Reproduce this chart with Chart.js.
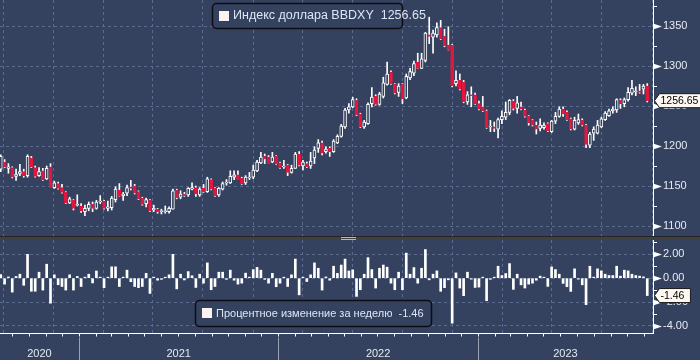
<!DOCTYPE html>
<html lang="ru">
<head>
<meta charset="utf-8">
<title>Индекс доллара BBDXY</title>
<script src="https://cdn.jsdelivr.net/npm/chart.js@4.4.1/dist/chart.umd.min.js"></script>
<style>
  html, body { margin: 0; padding: 0; background: #34425f; }
  #wrap { position: relative; width: 700px; height: 360px; background: #34425f; overflow: hidden; }
  #top { position: absolute; left: 0; top: 0; }
  #bottom { position: absolute; left: 0; top: 240px; }
  #split { position: absolute; left: 0; top: 236px; width: 700px; height: 4px; background: #404040; border-top: 1px solid #262626; box-sizing: border-box; }
  #grip { position: absolute; left: 341px; top: 0; width: 15px; height: 1px; border-top: 1px solid #b8b8b8; border-bottom: 1px solid #b8b8b8; }
</style>
</head>
<body>
<div id="wrap">
  <canvas id="top" width="700" height="236"></canvas>
  <div id="split"><div id="grip"></div></div>
  <canvas id="bottom" width="700" height="120"></canvas>
</div>
<script>
// weekly BBDXY candles, mid Aug 2020 .. mid Nov 2023
const opens = [
  1171, 1180, 1172, 1173, 1162, 1165, 1168, 1163, 1185, 1173,
  1163, 1169, 1159, 1174, 1148, 1153, 1148, 1142, 1129, 1132,
  1126, 1125, 1118, 1122, 1127, 1122, 1130, 1131, 1122, 1123,
  1133, 1145, 1138, 1141, 1149, 1150, 1143, 1135, 1128, 1132,
  1120, 1121, 1118, 1118, 1118, 1121, 1145, 1136, 1140, 1139,
  1146, 1148, 1139, 1147, 1143, 1158, 1147, 1139, 1146, 1154,
  1154, 1161, 1164, 1160, 1154, 1160, 1161, 1169, 1179, 1187,
  1186, 1180, 1187, 1179, 1174, 1176, 1167, 1172, 1190, 1175,
  1178, 1175, 1185, 1197, 1204, 1193, 1197, 1193, 1204, 1212,
  1224, 1245, 1249, 1257, 1240, 1224, 1228, 1253, 1262, 1252,
  1262, 1277, 1292, 1277, 1267, 1277, 1260, 1285, 1291, 1305,
  1297, 1307, 1339, 1336, 1339, 1348, 1337, 1326, 1326, 1278,
  1282, 1280, 1255, 1264, 1264, 1253, 1249, 1244, 1224, 1224,
  1221, 1233, 1236, 1242, 1256, 1247, 1249, 1245, 1237, 1232,
  1226, 1222, 1223, 1228, 1218, 1231, 1237, 1246, 1242, 1234,
  1221, 1229, 1232, 1226, 1201, 1216, 1216, 1224, 1233, 1238,
  1244, 1245, 1257, 1253, 1258, 1266, 1268, 1269, 1271, 1275
];
const highs = [
  1189, 1183, 1178, 1174, 1171, 1177, 1171, 1189, 1187, 1175,
  1173, 1172, 1175, 1178, 1156, 1155, 1152, 1143, 1136, 1133,
  1139, 1128, 1126, 1130, 1130, 1132, 1138, 1132, 1131, 1137,
  1149, 1153, 1142, 1151, 1157, 1152, 1144, 1136, 1135, 1133,
  1126, 1122, 1121, 1125, 1124, 1146, 1146, 1144, 1142, 1148,
  1154, 1150, 1148, 1152, 1161, 1159, 1148, 1148, 1155, 1158,
  1169, 1169, 1169, 1161, 1163, 1167, 1176, 1182, 1192, 1190,
  1188, 1192, 1188, 1180, 1182, 1177, 1176, 1192, 1193, 1182,
  1180, 1192, 1199, 1208, 1206, 1199, 1199, 1208, 1214, 1227,
  1247, 1253, 1261, 1259, 1241, 1232, 1254, 1273, 1264, 1267,
  1286, 1305, 1294, 1278, 1278, 1278, 1290, 1297, 1306, 1316,
  1316, 1342, 1361, 1345, 1354, 1357, 1346, 1349, 1327, 1294,
  1290, 1282, 1268, 1274, 1266, 1256, 1262, 1245, 1232, 1230,
  1235, 1244, 1255, 1258, 1258, 1262, 1255, 1246, 1238, 1233,
  1230, 1234, 1229, 1229, 1232, 1242, 1249, 1249, 1244, 1235,
  1236, 1240, 1234, 1227, 1217, 1224, 1232, 1236, 1243, 1246,
  1249, 1259, 1259, 1260, 1273, 1282, 1274, 1277, 1277, 1278
];
const lows = [
  1168, 1173, 1166, 1160, 1157, 1163, 1161, 1161, 1173, 1161,
  1162, 1157, 1158, 1149, 1147, 1146, 1141, 1128, 1128, 1120,
  1125, 1117, 1113, 1119, 1118, 1121, 1128, 1121, 1119, 1120,
  1130, 1137, 1132, 1138, 1145, 1140, 1133, 1126, 1124, 1118,
  1118, 1116, 1115, 1116, 1116, 1121, 1134, 1134, 1137, 1137,
  1145, 1137, 1137, 1142, 1142, 1145, 1137, 1137, 1145, 1151,
  1153, 1158, 1158, 1152, 1152, 1158, 1159, 1168, 1178, 1178,
  1178, 1179, 1177, 1172, 1172, 1163, 1166, 1172, 1175, 1170,
  1173, 1172, 1178, 1192, 1189, 1191, 1187, 1192, 1203, 1211,
  1222, 1241, 1248, 1238, 1223, 1222, 1227, 1249, 1251, 1251,
  1260, 1276, 1277, 1265, 1262, 1253, 1259, 1283, 1288, 1297,
  1297, 1305, 1328, 1316, 1336, 1333, 1324, 1320, 1274, 1275,
  1270, 1254, 1252, 1249, 1252, 1245, 1243, 1222, 1218, 1218,
  1210, 1228, 1233, 1239, 1245, 1241, 1245, 1236, 1226, 1225,
  1215, 1219, 1221, 1218, 1217, 1228, 1236, 1237, 1232, 1220,
  1220, 1227, 1225, 1198, 1198, 1207, 1215, 1223, 1232, 1237,
  1241, 1242, 1247, 1249, 1256, 1264, 1263, 1266, 1265, 1255
];
const closes = [
  1187, 1174, 1174, 1161, 1165, 1168, 1163, 1187, 1174, 1162,
  1168, 1158, 1172, 1149, 1154, 1147, 1142, 1129, 1134, 1122,
  1127, 1119, 1122, 1127, 1122, 1130, 1131, 1122, 1124, 1135,
  1146, 1137, 1140, 1148, 1147, 1141, 1134, 1127, 1133, 1119,
  1122, 1118, 1119, 1119, 1122, 1144, 1135, 1140, 1138, 1147,
  1148, 1140, 1146, 1143, 1159, 1146, 1138, 1147, 1153, 1155,
  1162, 1164, 1158, 1153, 1161, 1161, 1170, 1180, 1186, 1184,
  1178, 1186, 1178, 1173, 1175, 1167, 1172, 1190, 1176, 1180,
  1174, 1181, 1195, 1204, 1191, 1196, 1193, 1206, 1212, 1225,
  1245, 1249, 1258, 1239, 1224, 1230, 1252, 1261, 1252, 1265,
  1279, 1290, 1278, 1266, 1275, 1259, 1287, 1293, 1303, 1297,
  1309, 1341, 1337, 1341, 1348, 1334, 1325, 1320, 1275, 1282,
  1271, 1255, 1264, 1263, 1253, 1246, 1244, 1223, 1225, 1222,
  1233, 1237, 1242, 1257, 1247, 1254, 1246, 1237, 1229, 1226,
  1221, 1226, 1226, 1219, 1231, 1237, 1246, 1240, 1233, 1221,
  1232, 1233, 1226, 1202, 1215, 1221, 1226, 1234, 1241, 1244,
  1246, 1258, 1253, 1258, 1267, 1272, 1269, 1267, 1275, 1256.65
];
// weekly % change
const weeklyChange = [
  0.3, -0.5, 0.1, -1.17, 0.14, 0.33, -0.6, 2.0, -1.1, -1.1,
  0.5, -1.0, 1.17, -2.1, 0.28, -0.55, -0.7, -1.0, 0.28, -1.0,
  0.14, -0.7, 0.08, 0.33, -0.4, 0.6, 0.05, -0.8, 0.05, 0.95,
  0.95, -0.7, 0.05, 0.67, -0.3, -0.7, -0.8, -0.7, 0.4, -1.28,
  0.05, -0.17, -0.1, 0.05, 0.28, 2.0, -0.9, 0.33, -0.15, 0.55,
  0.2, -0.78, 0.33, -0.42, 1.28, -0.97, -0.7, 0.5, 0.5, -0.1,
  0.67, -0.17, -0.5, -0.42, 0.42, 0.05, 0.72, 0.9, 0.67, -0.1,
  -0.42, 0.4, -0.72, -0.42, 0.05, -0.7, 0.28, 1.6, -1.4, 0.05,
  -0.28, 0.28, 1.28, 0.83, -1.0, 0.1, -0.17, 1.0, 0.4, 1.1,
  1.6, 0.6, 0.7, -1.53, -0.97, 0.33, 1.72, 0.72, -0.83, 0.83,
  1.1, 0.92, -0.42, -0.97, 0.5, -0.97, 2.1, 0.33, 0.89, -0.42,
  0.83, 2.4, -0.14, 0.33, 0.61, -1.1, -0.8, -0.14, -3.78, 0.44,
  -0.83, -1.47, 0.5, -0.08, -0.78, -0.75, 0.05, -1.89, -0.1, 0.05,
  1.0, 0.22, 0.39, 1.22, -0.94, 0.33, -0.56, -0.83, -0.5, -0.42,
  -0.17, 0.17, 0.05, -0.69, 0.94, 0.72, 0.33, -0.44, -0.72, -1.11,
  0.78, -0.08, -0.56, -2.22, 1.0, 0.05, 0.78, 0.61, 0.33, 0.22,
  0.22, 1.0, 0.17, 0.67, 0.61, 0.33, 0.22, 0.17, 0.11, -1.46
];
const priceTicks = [1100, 1150, 1200, 1250, 1300, 1350];
const priceMinor = [1125, 1175, 1225, 1275, 1325, 1375];
const changeTicks = [-4, -2, 0, 2];
const changeMinor = [-3, -1, 1, 3];
const yearLabels = ['2020', '2021', '2022', '2023'];
const firstWeek = Date.UTC(2020, 7, 11);

const bg = '#34425f';
const gridColor = '#5a6b8f';
const axisColor = '#ffffff';
const textColor = '#e6eaf2';
const legendText = '#dde6f4';
const downColor = '#e2173e';
const font = '"Liberation Sans", Arial, sans-serif';
const xMin = -0.2, xMax = 170.5;

const DAY = 864e5;
const weekPos = (y, m) => (Date.UTC(y, m, 1) - firstWeek) / (7 * DAY);
const quarterLines = [], monthTicks = [];
for (let y = 2020; y <= 2024; y++) {
  for (let m = 0; m < 12; m++) {
    const p = weekPos(y, m);
    if (p <= xMin || p >= xMax) continue;
    monthTicks.push(p);
    if (m % 3 === 0) quarterLines.push(p);
  }
}

const idx = closes.map((c, i) => i);
const isUp = idx.map(i => closes[i] >= opens[i]);

function xAxis(height) {
  return {
    type: 'linear', min: xMin, max: xMax, offset: false,
    grid: { color: gridColor, lineWidth: 1, drawTicks: false },
    border: { display: false, dash: [3, 3] },
    ticks: { display: false },
    afterBuildTicks: s => { s.ticks = quarterLines.map(v => ({ value: v })); },
    afterFit: s => { s.height = height; s.paddingLeft = 0; s.paddingRight = 0; }
  };
}

function yAxis(min, max, ticks, fmt) {
  return {
    position: 'right', min: min, max: max,
    grid: { color: gridColor, lineWidth: 1, drawTicks: false },
    border: { display: true, color: axisColor, width: 1, dash: [3, 3] },
    ticks: { color: textColor, padding: 10, font: { family: font, size: 11 }, callback: fmt },
    afterBuildTicks: s => { s.ticks = ticks.map(v => ({ value: v })); },
    afterFit: s => { s.width = 47; s.paddingTop = 0; s.paddingBottom = 0; }
  };
}

const panelDecor = {
  id: 'panelDecor',
  afterDraw(chart, args, o) {
    const ctx = chart.ctx, area = chart.chartArea;
    const ys = chart.scales.y, xs = chart.scales.x;
    ctx.save();
    ctx.strokeStyle = axisColor;
    ctx.fillStyle = axisColor;
    ctx.lineWidth = 1;

    // right axis tick marks
    o.minors.forEach(v => {
      const py = Math.round(ys.getPixelForValue(v)) + 0.5;
      ctx.beginPath();
      ctx.moveTo(area.right, py);
      ctx.lineTo(area.right + 4, py);
      ctx.stroke();
    });
    o.majors.forEach(v => {
      const py = Math.round(ys.getPixelForValue(v)) + 0.5;
      ctx.beginPath();
      ctx.moveTo(area.right, py - 3);
      ctx.lineTo(area.right + 9, py);
      ctx.lineTo(area.right, py + 3);
      ctx.closePath();
      ctx.fill();
    });

    // time axis (lower panel only)
    if (o.timeAxis) {
      const by = Math.round(area.bottom) + 0.5;
      ctx.beginPath();
      ctx.moveTo(area.left, by);
      ctx.lineTo(area.right, by);
      monthTicks.forEach(v => {
        const px = Math.round(xs.getPixelForValue(v)) + 0.5;
        ctx.moveTo(px, by);
        ctx.lineTo(px, by + 3);
      });
      ctx.stroke();

      ctx.strokeStyle = '#9aa2b4';
      ctx.beginPath();
      yearLabels.slice(1).forEach(y => {
        const px = Math.round(xs.getPixelForValue(weekPos(+y, 0))) + 0.5;
        ctx.moveTo(px, by + 4);
        ctx.lineTo(px, chart.height);
      });
      ctx.stroke();

      ctx.font = '11px ' + font;
      ctx.fillStyle = textColor;
      ctx.textAlign = 'center';
      ctx.textBaseline = 'middle';
      yearLabels.forEach(y => {
        const a = Math.max(xs.getPixelForValue(weekPos(+y, 0)), area.left);
        const b = Math.min(xs.getPixelForValue(weekPos(+y + 1, 0)), area.right);
        ctx.fillText(y, (a + b) / 2, by + 20);
      });
    }

    // legend box
    const L = o.legend;
    ctx.beginPath();
    ctx.roundRect(L.x + 0.5, L.y + 0.5, L.w, L.h, 4);
    ctx.fillStyle = bg;
    ctx.fill();
    ctx.lineWidth = 1.5;
    ctx.strokeStyle = '#0c0d12';
    ctx.stroke();
    ctx.fillStyle = '#fcf3f0';
    ctx.fillRect(L.x + 7, Math.round(L.y + (L.h - 10) / 2), 10, 10);
    ctx.font = L.size + 'px ' + font;
    ctx.fillStyle = legendText;
    ctx.textAlign = 'left';
    ctx.textBaseline = 'middle';
    ctx.fillText(L.text, L.x + 21, L.y + L.h / 2 + 0.5);

    // last value badge
    const B = o.badge;
    ctx.font = '10.5px ' + font;
    const py = ys.getPixelForValue(B.value);
    const w = ctx.measureText(B.text).width + 7;
    const x0 = area.right + 1.5, h = 14;
    ctx.beginPath();
    ctx.moveTo(x0, py);
    ctx.lineTo(x0 + 5, py - h / 2);
    ctx.lineTo(x0 + 5 + w, py - h / 2);
    ctx.lineTo(x0 + 5 + w, py + h / 2);
    ctx.lineTo(x0 + 5, py + h / 2);
    ctx.closePath();
    ctx.fillStyle = '#fdf9f2';
    ctx.fill();
    ctx.lineWidth = 1;
    ctx.strokeStyle = '#1a1a1a';
    ctx.stroke();
    ctx.fillStyle = '#000000';
    ctx.fillText(B.text, x0 + 6, py + 0.5);
    ctx.restore();
  }
};

const last = closes.length - 1;
const common = {
  responsive: false,
  animation: false,
  devicePixelRatio: 1,
  events: [],
  layout: { padding: 0 }
};

new Chart(document.getElementById('top'), {
  type: 'bar',
  data: {
    datasets: [
      {
        label: 'body',
        data: idx.map(i => ({ x: i, y: [opens[i], closes[i]] })),
        backgroundColor: idx.map(i => isUp[i] ? bg : downColor),
        borderColor: idx.map(i => isUp[i] ? '#ffffff' : downColor),
        borderWidth: 1,
        borderSkipped: false,
        barThickness: 3,
        grouped: false,
        order: 0
      },
      {
        label: 'wick',
        data: idx.map(i => ({ x: i, y: [lows[i], highs[i]] })),
        backgroundColor: '#ffffff',
        borderWidth: 0,
        barThickness: 1,
        grouped: false,
        order: 1
      }
    ]
  },
  options: {
    ...common,
    plugins: {
      legend: { display: false },
      tooltip: { enabled: false },
      panelDecor: {
        majors: priceTicks,
        minors: priceMinor,
        legend: { x: 212, y: 3, w: 190, h: 25, size: 12.5, text: 'Индекс доллара BBDXY  ' + closes[last].toFixed(2) },
        badge: { value: closes[last], text: closes[last].toFixed(2) }
      }
    },
    scales: {
      x: xAxis(0),
      y: yAxis(1087.5, 1382.5, priceTicks, v => String(v))
    }
  },
  plugins: [panelDecor]
});

new Chart(document.getElementById('bottom'), {
  type: 'bar',
  data: {
    datasets: [{
      label: 'Процентное изменение за неделю',
      data: idx.map(i => ({ x: i, y: weeklyChange[i] })),
      backgroundColor: '#ffffff',
      borderWidth: 0,
      barThickness: 2,
      minBarLength: 1
    }]
  },
  options: {
    ...common,
    plugins: {
      legend: { display: false },
      tooltip: { enabled: false },
      panelDecor: {
        majors: changeTicks,
        minors: changeMinor,
        timeAxis: true,
        legend: { x: 195, y: 60, w: 236, h: 26, size: 11, text: 'Процентное изменение за неделю  ' + weeklyChange[last].toFixed(2) },
        badge: { value: weeklyChange[last], text: weeklyChange[last].toFixed(2) }
      }
    },
    scales: {
      x: xAxis(27),
      y: yAxis(-4.6, 3.2, changeTicks, v => v.toFixed(2))
    }
  },
  plugins: [panelDecor]
});
</script>
</body>
</html>
